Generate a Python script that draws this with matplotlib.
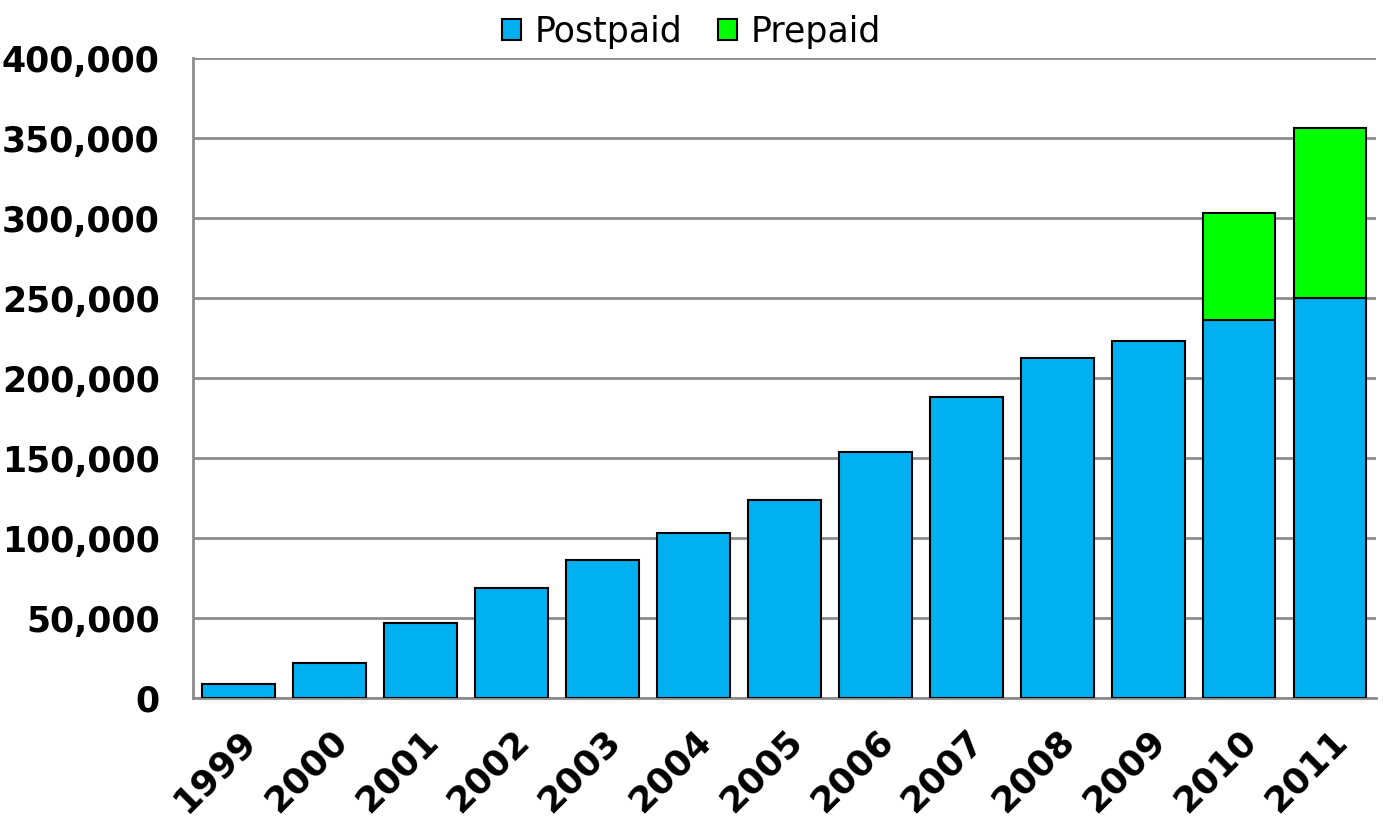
import numpy as np
import matplotlib
matplotlib.use('Agg')
import matplotlib.pyplot as plt
from matplotlib.ticker import FuncFormatter

years = ['1999', '2000', '2001', '2002', '2003', '2004', '2005',
         '2006', '2007', '2008', '2009', '2010', '2011']
postpaid = [9000, 22000, 47000, 68500, 86000, 103000, 123500,
            153500, 188000, 212500, 223000, 236000, 250000]
prepaid = [0, 0, 0, 0, 0, 0, 0, 0, 0, 0, 0, 67000, 106000]

blue = '#00B0F0'
green = '#00FF00'

plt.rcParams['font.family'] = ['DejaVu Sans']

fig = plt.figure(figsize=(13.83, 8.35), dpi=100)
ax = fig.add_axes([0.1396, 0.164, 0.855, 0.7665])

x = np.arange(len(years))
ax.bar(x, postpaid, width=0.8, color=blue, edgecolor='black', linewidth=1.5,
       label='Postpaid', zorder=3)
# prepaid only exists for the last two years
pre = np.array(prepaid)
mask = pre > 0
ax.bar(x[mask], pre[mask], width=0.8, bottom=np.array(postpaid)[mask],
       color=green, edgecolor='black', linewidth=1.5, label='Prepaid', zorder=3)

ax.set_xlim(-0.5, len(years) - 0.5)
ax.set_ylim(0, 400000)
ax.set_yticks(np.arange(0, 400001, 50000))
ax.yaxis.set_major_formatter(FuncFormatter(lambda v, p: f'{int(v):,}'))
ax.set_xticks(x)
ax.set_xticklabels(years, rotation=45, ha='right', rotation_mode='anchor')

ax.grid(axis='y', color='#8c8c8c', linewidth=2, zorder=0)
for side in ['top', 'right']:
    ax.spines[side].set_visible(False)
for side in ['left', 'bottom']:
    ax.spines[side].set_color('#8c8c8c')
    ax.spines[side].set_linewidth(2)

ax.tick_params(axis='y', length=0, pad=24, labelsize=25)
ax.tick_params(axis='x', length=0, pad=18, labelsize=26)
for lbl in ax.get_yticklabels() + ax.get_xticklabels():
    lbl.set_fontweight('bold')

fig.legend(loc='upper center', bbox_to_anchor=(0.5, 1.02), ncol=2, frameon=False,
           fontsize=25, handlelength=0.55, handleheight=0.55, handletextpad=0.4,
           columnspacing=1.0)

fig.savefig('out.png', dpi=100)
